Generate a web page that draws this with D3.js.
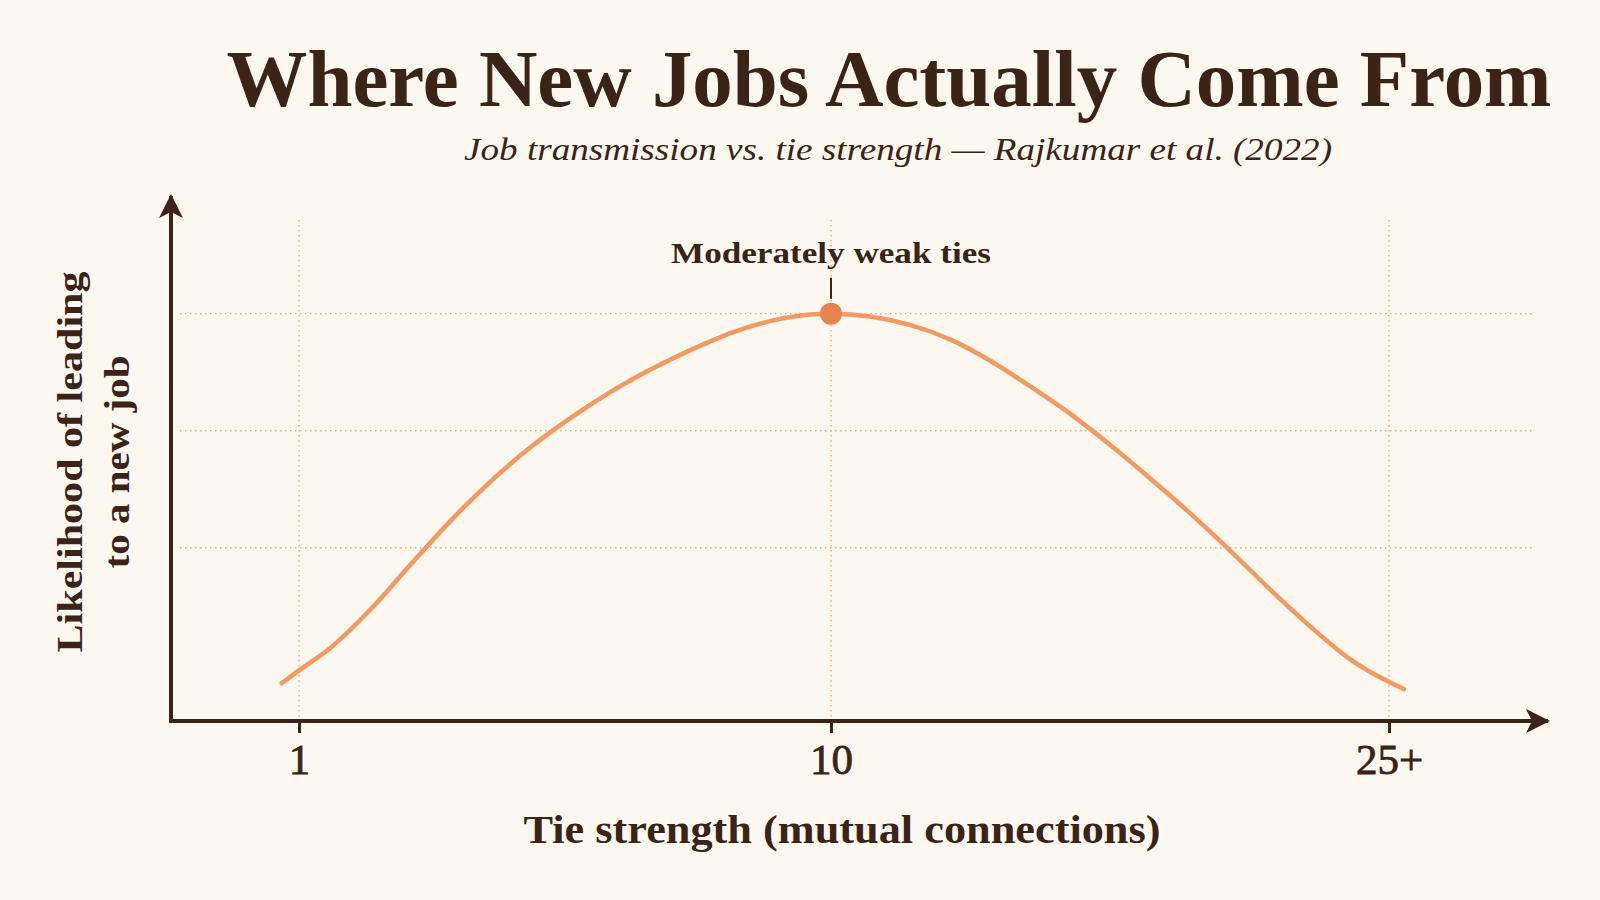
<!DOCTYPE html>
<html>
<head>
<meta charset="utf-8">
<script src="https://cdn.jsdelivr.net/npm/d3@7"></script>
<style>
  html, body { margin: 0; padding: 0; background: #FDF8EF; }
  svg { display: block; }
  text { font-family: "Liberation Serif", "Times New Roman", serif; }
</style>
</head>
<body>
<svg id="chart" width="1600" height="900"></svg>
<script>
// ---- data ----
const tieStrength = [0.71, 1, 1.52, 2.2, 2.88, 3.56, 4.23, 4.91, 5.59, 6.26, 6.94, 7.62, 8.29, 8.97, 9.65, 10,
                     11.05, 12.12, 13.2, 14.27, 15.35, 16.43, 17.5, 18.58, 19.65, 20.73, 21.8, 22.88, 23.95, 25.03, 25.4];
const likelihood  = [0.211, 0.238, 0.285, 0.367, 0.463, 0.557, 0.640, 0.714, 0.777, 0.832, 0.880, 0.922, 0.958, 0.984, 0.998, 1.0,
                     0.994, 0.976, 0.945, 0.900, 0.845, 0.786, 0.720, 0.648, 0.574, 0.494, 0.411, 0.332, 0.262, 0.212, 0.198];
const xTickValues = [1, 10, 25];
const xTickLabels = ["1", "10", "25+"];
const yGridValues = [0.5, 0.75, 1.0];
const peakValue = { x: 10, y: 1.0, label: "Moderately weak ties" };
const titleText = "Where New Jobs Actually Come From";
const subtitleText = "Job transmission vs. tie strength \u2014 Rajkumar et al. (2022)";
const xTitle = "Tie strength (mutual connections)";
const yTitleLines = ["Likelihood of leading", "to a new job"];

// ---- style ----
const INK = "#3A2417";
const LINE = "#F29A62";
const DOT = "#E5844F";
const GRID = "#E6AD7C";

const svg = d3.select("#chart");
const W = 1600, H = 900;
const plot = { left: 171, bottom: 721, top: 220, right: 1533 };

const x = d3.scaleLinear().domain([1, 10, 25]).range([299, 831, 1389]);
const y = d3.scaleLinear().domain([0.13, 1.2]).range([plot.bottom, plot.top]);

svg.append("rect").attr("width", W).attr("height", H).attr("fill", "#FDF8EF");

// gridlines
const grid = svg.append("g");
grid.selectAll("line.h").data(yGridValues).join("line")
  .attr("x1", plot.left + 9).attr("x2", plot.right)
  .attr("y1", d => y(d)).attr("y2", d => y(d))
  .attr("stroke", GRID).attr("stroke-width", 1.4).attr("stroke-dasharray", "1.5 3.5");
grid.selectAll("line.v").data(xTickValues).join("line")
  .attr("x1", d => x(d)).attr("x2", d => x(d))
  .attr("y1", plot.top).attr("y2", plot.bottom)
  .attr("stroke", GRID).attr("stroke-width", 1.4).attr("stroke-dasharray", "1.5 3.5");

// curve
const data = tieStrength.map((t, i) => ({ x: t, y: likelihood[i] }));
const line = d3.line().x(d => x(d.x)).y(d => y(d.y)).curve(d3.curveMonotoneX);
svg.append("path").datum(data).attr("d", line)
  .attr("fill", "none").attr("stroke", LINE).attr("stroke-width", 4.5)
  .attr("stroke-linecap", "round");

// axes
const defs = svg.append("defs");
defs.append("marker").attr("id", "arrow").attr("viewBox", "0 0 24 24")
  .attr("refX", 22).attr("refY", 12).attr("markerWidth", 24).attr("markerHeight", 24)
  .attr("markerUnits", "userSpaceOnUse").attr("orient", "auto")
  .append("path").attr("d", "M0,0 L24,12 L0,24 L6,12 Z").attr("fill", INK);

const xAxis = d3.axisBottom(x).tickValues(xTickValues)
  .tickFormat((d, i) => xTickLabels[i]).tickSize(12).tickPadding(11);
const gx = svg.append("g").attr("transform", `translate(0,${plot.bottom})`).call(xAxis);
gx.select(".domain").remove();
gx.selectAll(".tick line").attr("stroke", INK).attr("stroke-width", 3);
gx.selectAll(".tick text").attr("fill", INK)
  .attr("stroke", INK).attr("stroke-width", 0.8)
  .style("font-family", "'Liberation Serif', serif").style("font-size", "43px")
  .attr("dy", "0.70em");

svg.append("line").attr("x1", plot.left - 2).attr("x2", 1548)
  .attr("y1", plot.bottom).attr("y2", plot.bottom)
  .attr("stroke", INK).attr("stroke-width", 4).attr("marker-end", "url(#arrow)");
svg.append("line").attr("x1", plot.left).attr("x2", plot.left)
  .attr("y1", plot.bottom + 2).attr("y2", 196)
  .attr("stroke", INK).attr("stroke-width", 4).attr("marker-end", "url(#arrow)");

// peak annotation
svg.append("line").attr("x1", x(peakValue.x)).attr("x2", x(peakValue.x))
  .attr("y1", y(peakValue.y) - 36).attr("y2", y(peakValue.y) - 15)
  .attr("stroke", INK).attr("stroke-width", 2);
svg.append("circle").attr("cx", x(peakValue.x)).attr("cy", y(peakValue.y))
  .attr("r", 11).attr("fill", DOT);
svg.append("text").attr("x", x(peakValue.x)).attr("y", 263)
  .attr("text-anchor", "middle").attr("font-weight", "bold").attr("font-size", 30)
  .attr("fill", INK).attr("textLength", 320).attr("lengthAdjust", "spacingAndGlyphs")
  .text(peakValue.label);

// titles
svg.append("text").attr("x", 889).attr("y", 106)
  .attr("text-anchor", "middle").attr("font-weight", "bold").attr("font-size", 80)
  .attr("fill", INK).attr("textLength", 1325).attr("lengthAdjust", "spacingAndGlyphs")
  .text(titleText);
svg.append("text").attr("x", 898).attr("y", 160)
  .attr("text-anchor", "middle").attr("font-style", "italic").attr("font-size", 31)
  .attr("fill", INK).attr("textLength", 868).attr("lengthAdjust", "spacingAndGlyphs")
  .text(subtitleText);

svg.append("text").attr("x", 842).attr("y", 843)
  .attr("text-anchor", "middle").attr("font-weight", "bold").attr("font-size", 40)
  .attr("fill", INK).attr("textLength", 637).attr("lengthAdjust", "spacingAndGlyphs")
  .text(xTitle);

const yLens = [381, 213];
const yBase = [82, 129];
yTitleLines.forEach((t, i) => {
  svg.append("text")
    .attr("transform", `translate(${yBase[i]},462) rotate(-90)`)
    .attr("text-anchor", "middle").attr("font-weight", "bold").attr("font-size", 36)
    .attr("fill", INK).attr("textLength", yLens[i]).attr("lengthAdjust", "spacingAndGlyphs")
    .text(t);
});
</script>
</body>
</html>
